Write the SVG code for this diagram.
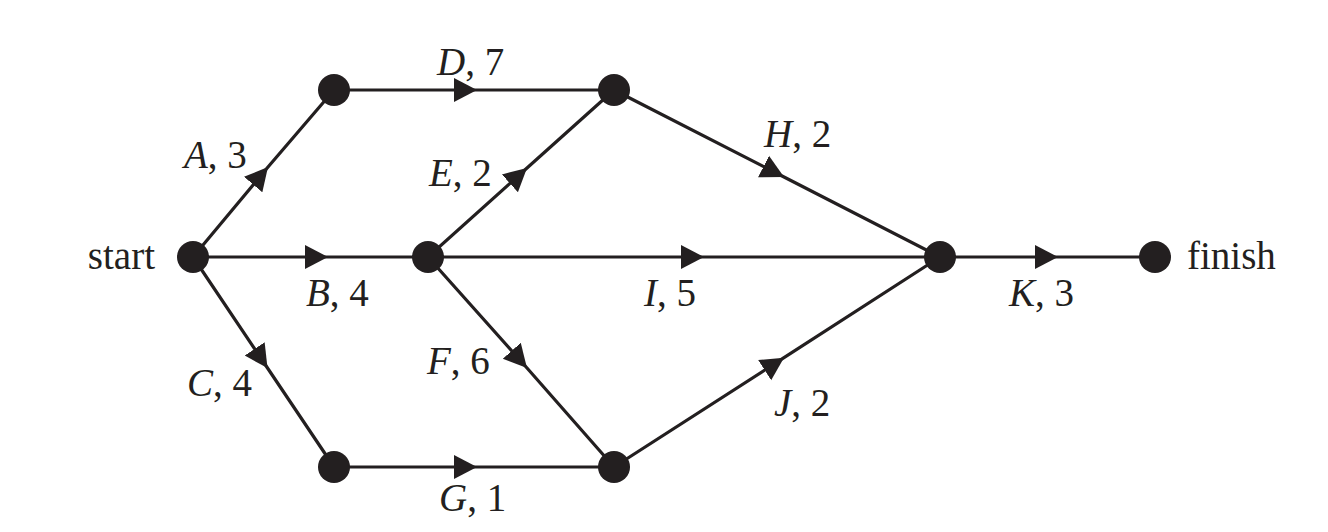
<svg xmlns="http://www.w3.org/2000/svg" width="1328" height="532" viewBox="0 0 1328 532" font-family="'Liberation Serif', 'Times New Roman', serif">
<style>
.e{fill:none;stroke:#231f20;stroke-width:3.2;marker-mid:url(#ah)}
.n{fill:#231f20}
text{font-family:'Liberation Serif','Times New Roman',serif;font-size:39px;fill:#231f20}
.i{font-style:italic}
</style>
<defs>
<marker id="ah" markerUnits="userSpaceOnUse" markerWidth="24" markerHeight="26" viewBox="0 0 24 26" refX="23" refY="13" orient="auto">
<path d="M0,1 L23,13 L0,25 z" fill="#231f20"/>
</marker>
</defs>
<rect width="1328" height="532" fill="#fff"/>
<g id="connectors">
<polyline id="eA" class="e" points="193,257 268,167 334,90"/>
<polyline id="eB" class="e" points="193,257 328,257 428,257"/>
<polyline id="eC" class="e" points="193,257 267.5,368 334,467"/>
<polyline id="eD" class="e" points="334,90 477,90 614,90"/>
<polyline id="eE" class="e" points="428,257 527,168 614,90"/>
<polyline id="eF" class="e" points="428,257 527,368 614,467"/>
<polyline id="eG" class="e" points="334,467 477,467 614,467"/>
<polyline id="eH" class="e" points="614,90 784,177 940,257"/>
<polyline id="eI" class="e" points="428,257 704,257 940,257"/>
<polyline id="eJ" class="e" points="614,467 784,357.7 940,257"/>
<polyline id="eK" class="e" points="940,257 1058,257 1155,257"/>
</g>
<g id="labels">
<text x="184" y="168"><tspan class="i">A</tspan>, 3</text>
<text x="306" y="306"><tspan class="i">B</tspan>, 4</text>
<text x="187" y="396"><tspan class="i">C</tspan>, 4</text>
<text x="437" y="75"><tspan class="i">D</tspan>, 7</text>
<text x="429" y="186"><tspan class="i">E</tspan>, 2</text>
<text x="427" y="374"><tspan class="i">F</tspan>, 6</text>
<text x="439" y="511"><tspan class="i">G</tspan>, 1</text>
<text x="764" y="147"><tspan class="i">H</tspan>, 2</text>
<text x="644" y="306"><tspan class="i">I</tspan>, 5</text>
<text x="774" y="416"><tspan class="i">J</tspan>, 2</text>
<text x="1009" y="306"><tspan class="i">K</tspan>, 3</text>
</g>
<g id="start"><circle class="n" cx="193" cy="257" r="16"/><text x="155" y="269" text-anchor="end">start</text></g>
<g id="n1"><circle class="n" cx="334" cy="90" r="16"/></g>
<g id="n2"><circle class="n" cx="614" cy="90" r="16"/></g>
<g id="n3"><circle class="n" cx="428" cy="257" r="16"/></g>
<g id="n4"><circle class="n" cx="334" cy="467" r="16"/></g>
<g id="n5"><circle class="n" cx="614" cy="467" r="16"/></g>
<g id="n6"><circle class="n" cx="940" cy="257" r="16"/></g>
<g id="finish"><circle class="n" cx="1155" cy="257" r="16"/><text x="1187" y="269">finish</text></g>
</svg>
